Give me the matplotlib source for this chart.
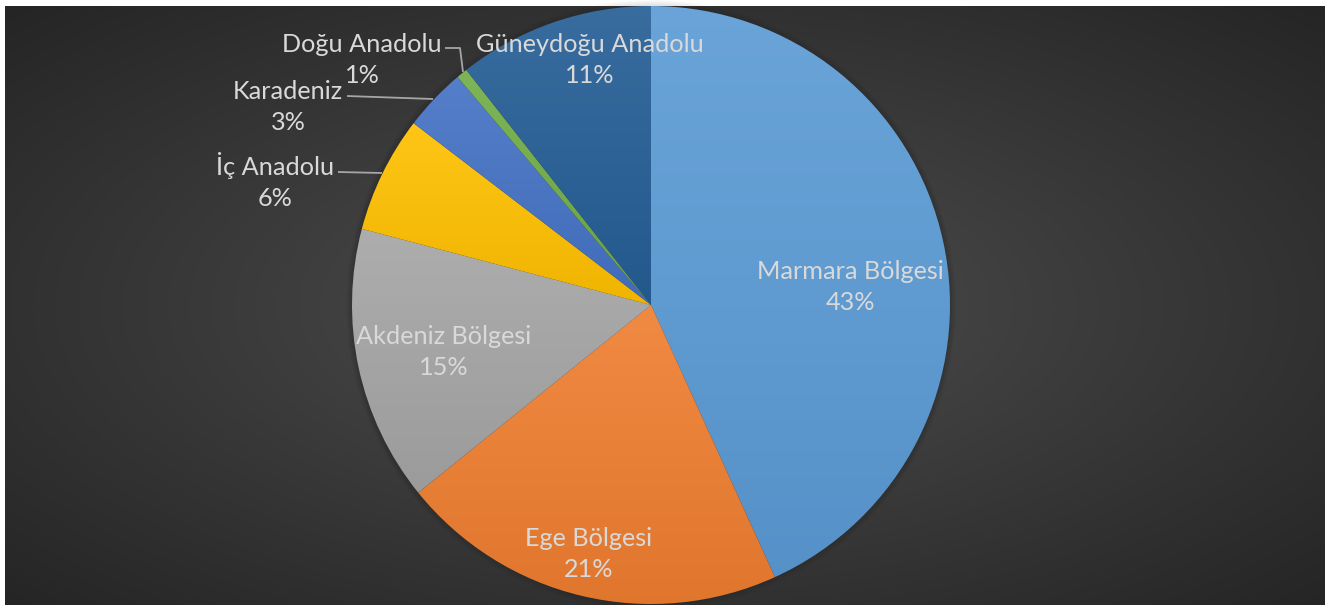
"""Pie chart: distribution by region (Turkey), dark radial-gradient background."""
import matplotlib
matplotlib.use("Agg")
import matplotlib.pyplot as plt
import numpy as np
from matplotlib.colors import to_rgb

# Data (clockwise from 12 o'clock)
regions = ["Marmara Bölgesi", "Ege Bölgesi", "Akdeniz Bölgesi", "İç Anadolu",
           "Karadeniz", "Doğu Anadolu", "Güneydoğu Anadolu"]
shares = [43.2, 21.0, 14.9, 6.3, 3.4, 0.6, 10.6]

COLORS = ["#5b9bd5", "#ef7e30", "#a5a5a5", "#ffc000", "#4472c4", "#70ad47", "#255e96"]
TEXT_COLOR = "#d9d9d9"
LEADER_COLOR = "#a6a6a6"

W, H = 1325, 605
CX, CY, R = 651, 305, 299          # pixel coords (y down)

# label block centres in pixels (layout only)
LABEL_POS = [(850, 287), (589, 554), (444, 352), (275, 181),
             (288, 107), (362, 60), (590, 60)]
# leader lines for the small outside slices (pixels)
LEADERS = {
    3: [(338, 172), (382, 173)],
    4: [(347, 96), (433, 99)],
    5: [(445, 48), (460, 48), (463, 72)],
}


def py(y):
    return H - y


def shade(c, f):
    c = np.array(to_rgb(c))
    return np.clip(c + (1 - c) * f, 0, 1) if f > 0 else c * (1 + f)


fig = plt.figure(figsize=(W / 100, H / 100), dpi=100)
fig.patch.set_facecolor("white")

# background: radial gradient, with a thin white margin top/left
bg = fig.add_axes([5 / W, 0, (W - 5) / W, (H - 6) / H])
bg.set_axis_off()
yy, xx = np.mgrid[0:300, 0:660]
d = np.sqrt(((xx - 330) / 330.0) ** 2 + ((yy - 150) / 150.0) ** 2) / np.sqrt(2)
inner, outer = np.array(to_rgb("#515151")), np.array(to_rgb("#252525"))
img = inner + (outer - inner) * np.clip(d, 0, 1)[..., None] ** 0.9
bg.imshow(img, aspect="auto", extent=(0, 1, 0, 1), interpolation="bilinear")

ax = fig.add_axes([0, 0, 1, 1])
ax.patch.set_alpha(0)

# soft shadow around the pie
for k in range(6):
    ax.add_patch(plt.Circle((CX, py(CY)), R + 1 + k, color="black",
                            alpha=0.02, lw=0, zorder=0))

wedges, _ = ax.pie(shares, colors=COLORS, startangle=90, counterclock=False,
                   center=(CX, py(CY)), radius=R, frame=True,
                   wedgeprops=dict(linewidth=0, edgecolor="none"))

# vertical gradient fill for every slice (lighter top, darker bottom)
for w, c in zip(wedges, COLORS):
    ext = w.get_path().get_extents()
    top, bot = shade(c, 0.09), shade(c, -0.06)
    t = np.linspace(0, 1, 256)[:, None, None]
    grad = top + (bot - top) * t
    grad = np.repeat(grad, 2, axis=1)
    im = ax.imshow(grad, extent=(ext.x0, ext.x1, ext.y0, ext.y1),
                   aspect="auto", origin="upper", interpolation="bilinear", zorder=2)
    im.set_clip_path(w)
    w.set_facecolor("none")
    w.set_zorder(3)

for i, (name, val) in enumerate(zip(regions, shares)):
    x, y = LABEL_POS[i]
    ax.text(x, py(y), f"{name}\n{val:.0f}%", ha="center", va="center",
            color=TEXT_COLOR, fontsize=18.2, family=["Lato", "DejaVu Sans"],
            linespacing=1.38, zorder=5)

for pts in LEADERS.values():
    xs = [p[0] for p in pts]
    ys = [py(p[1]) for p in pts]
    ax.plot(xs, ys, color=LEADER_COLOR, lw=1.3, zorder=4, solid_capstyle="butt")

ax.set_xlim(0, W)
ax.set_ylim(0, H)
ax.set_aspect("auto")
ax.set_axis_off()

fig.savefig("out.png", dpi=100)
